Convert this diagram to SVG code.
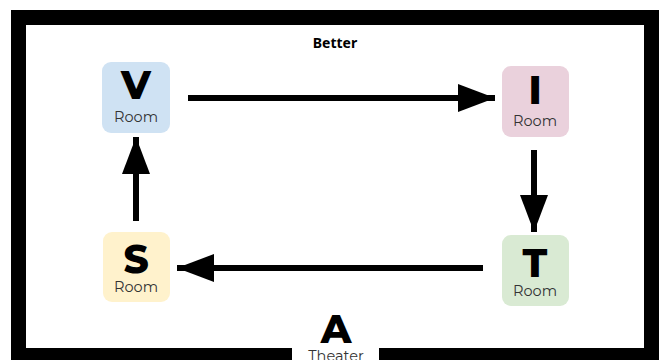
<svg xmlns="http://www.w3.org/2000/svg" width="666" height="360" viewBox="0 0 666 360">
<style>
.box{rx:9px;ry:9px}
.big{font-family:Montserrat,"Open Sans","Liberation Sans",sans-serif;font-weight:800;font-size:39px;fill:#000;text-anchor:middle}
.sub{font-family:Montserrat,"Open Sans","Liberation Sans",sans-serif;font-size:14.5px;fill:#333;text-anchor:middle}
.title{font-family:"Noto Sans","Liberation Sans",sans-serif;font-weight:bold;font-size:14px;fill:#000;text-anchor:middle}
.conn{stroke:#000;stroke-width:6;fill:none}
</style>
<defs>
<marker id="ah" markerUnits="userSpaceOnUse" markerWidth="38" markerHeight="28" refX="37" refY="14" orient="auto">
<polygon points="0,0 37,14 0,28" fill="#000"/>
</marker>
</defs>
<rect x="0" y="0" width="666" height="360" fill="#fff"/>
<g id="frame">
<rect x="18.5" y="17.5" width="633" height="338" fill="#fff" stroke="#000" stroke-width="15"/>
<rect x="292" y="344" width="87" height="16" fill="#fff"/>
<text class="title" x="335" y="48">Better</text>
</g>
<g id="connectors">
<line class="conn" x1="188" y1="98" x2="495" y2="98" marker-end="url(#ah)"/>
<line class="conn" x1="534" y1="150" x2="534" y2="232" marker-end="url(#ah)"/>
<line class="conn" x1="483" y1="268" x2="177" y2="268" marker-end="url(#ah)"/>
<line class="conn" x1="136" y1="221" x2="136" y2="137" marker-end="url(#ah)"/>
</g>
<g id="V">
<rect class="box" x="102" y="62" width="68" height="71" fill="#cfe2f3"/>
<text class="big" x="136" y="99">V</text>
<text class="sub" x="136" y="122">Room</text>
</g>
<g id="I">
<rect class="box" x="502" y="66" width="67" height="71" fill="#ead1dc"/>
<text class="big" x="535" y="104">I</text>
<text class="sub" x="535" y="126">Room</text>
</g>
<g id="T">
<rect class="box" x="502" y="235" width="67" height="71" fill="#d9ead3"/>
<text class="big" x="535" y="277">T</text>
<text class="sub" x="535" y="296">Room</text>
</g>
<g id="S">
<rect class="box" x="103" y="232" width="67" height="70" fill="#fff2cc"/>
<text class="big" x="136" y="273">S</text>
<text class="sub" x="136" y="292">Room</text>
</g>
<g id="A">
<text class="big" x="336" y="343">A</text>
<text class="sub" x="336" y="361">Theater</text>
</g>
</svg>
